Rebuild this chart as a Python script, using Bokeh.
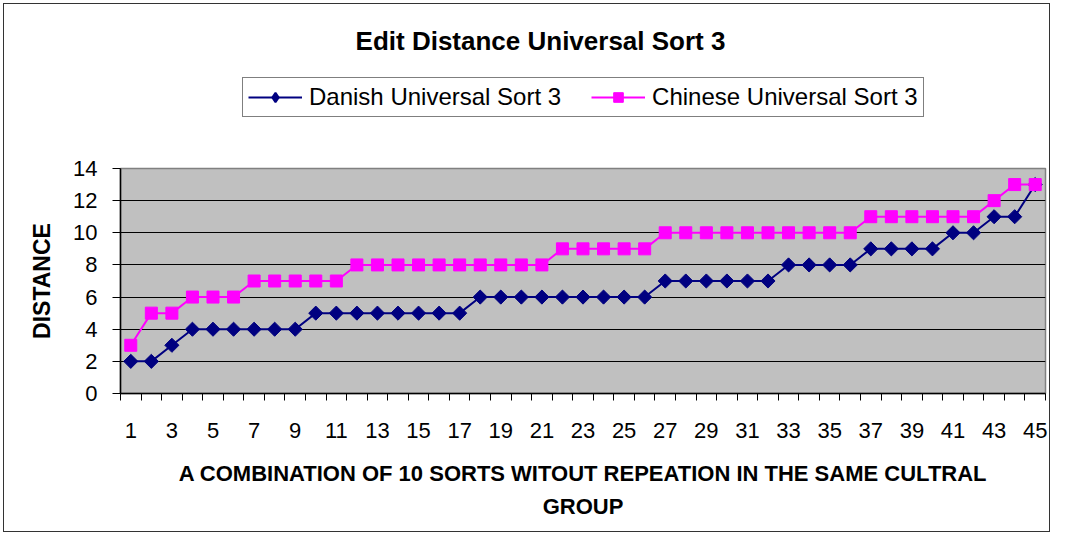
import numpy as np
from bokeh.plotting import figure
from bokeh.layouts import column
from bokeh.models import FixedTicker, Legend, LegendItem, Range1d, ColumnDataSource, Label
from bokeh.embed import file_html
from bokeh.resources import INLINE

# ---- data ----
combination = list(range(1, 46))
danish = [2, 2, 3, 4, 4, 4, 4, 4, 4, 5, 5, 5, 5, 5, 5, 5, 5,
          6, 6, 6, 6, 6, 6, 6, 6, 6, 7, 7, 7, 7, 7, 7,
          8, 8, 8, 8, 9, 9, 9, 9, 10, 10, 11, 11, 13]
chinese = [3, 5, 5, 6, 6, 6, 7, 7, 7, 7, 7,
           8, 8, 8, 8, 8, 8, 8, 8, 8, 8, 9, 9, 9, 9, 9,
           10, 10, 10, 10, 10, 10, 10, 10, 10, 10,
           11, 11, 11, 11, 11, 11, 12, 13, 13]
x_tick_labels = list(range(1, 46, 2))
y_ticks = list(range(0, 15, 2))
series_names = ["Danish Universal Sort 3", "Chinese Universal Sort 3"]
chart_title = "Edit Distance Universal Sort 3"
x_title = "A COMBINATION OF 10 SORTS WITOUT REPEATION IN THE SAME CULTRAL\nGROUP"
y_title = "DISTANCE"

FONT = "Liberation Sans"
NAVY = "#000080"
MAGENTA = "#FF00FF"
W, H, TOP_H = 1053, 535, 156
FRAME_L, FRAME_R = 120, 1045

src = ColumnDataSource(dict(x=combination, danish=danish, chinese=chinese))

# ---------------- header figure: title + legend ----------------
# (its frame is aligned with the chart frame by the column layout)
head = figure(width=W, height=TOP_H, x_range=Range1d(FRAME_L, FRAME_R), y_range=Range1d(TOP_H, 0),
              output_backend="svg", toolbar_location=None,
              x_axis_type=None, y_axis_type=None,
              min_border_left=0, min_border_right=0, min_border_top=0, min_border_bottom=0)
head.title = None
head.grid.visible = False
head.outline_line_color = None
head.background_fill_color = None
head.border_fill_color = None

# legend-only copies of the series (hidden in the header)
hl1 = head.line("x", "danish", source=src, line_color=NAVY, line_width=2, visible=False)
hs1 = head.scatter("x", "danish", source=src, marker="diamond", size=14,
                   fill_color=NAVY, line_color=NAVY, line_width=2, visible=False)
hl2 = head.line("x", "chinese", source=src, line_color=MAGENTA, line_width=2, visible=False)
hs2 = head.scatter("x", "chinese", source=src, marker="square", size=12,
                   fill_color=MAGENTA, line_color=MAGENTA, visible=False)

head.add_layout(Label(x=540, y=40, text=chart_title, text_align="center", text_baseline="middle",
                      text_font=FONT, text_font_size="26px", text_font_style="bold",
                      text_color="black"))

legend = Legend(items=[LegendItem(label=series_names[0], renderers=[hl1, hs1]),
                       LegendItem(label=series_names[1], renderers=[hl2, hs2])],
                location=(242 - FRAME_L, TOP_H - 117), orientation="horizontal",
                label_text_font=FONT, label_text_font_size="24px", label_text_color="black",
                glyph_width=54, glyph_height=24, label_height=24, label_standoff=7,
                spacing=30, padding=5, margin=0,
                inactive_fill_alpha=0.0,
                border_line_color="black", border_line_width=1,
                background_fill_color="white", background_fill_alpha=1)
head.add_layout(legend)

# ---------------- main chart ----------------
p = figure(width=W, height=H - TOP_H,
           x_range=Range1d(0.5, len(combination) + 0.5), y_range=Range1d(0, 14),
           output_backend="svg", toolbar_location=None,
           min_border_left=FRAME_L, min_border_right=W - FRAME_R,
           min_border_top=168 - TOP_H, min_border_bottom=H - 393)
p.title = None
p.background_fill_color = "#C0C0C0"
p.border_fill_color = None
p.outline_line_color = "#808080"
p.outline_line_width = 1.5

p.xgrid.grid_line_color = None
p.ygrid.ticker = FixedTicker(ticks=y_ticks)
p.ygrid.grid_line_color = "black"
p.ygrid.grid_line_width = 1

p.xaxis.ticker = FixedTicker(ticks=x_tick_labels,
                             minor_ticks=[c - 0.5 for c in combination] + [combination[-1] + 0.5])
p.xaxis.major_tick_line_color = None
p.xaxis.major_tick_out = 7
p.xaxis.major_tick_in = 0
p.xaxis.minor_tick_out = 7
p.xaxis.minor_tick_in = 0
p.xaxis.minor_tick_line_color = "black"
p.xaxis.major_label_standoff = 22
p.xaxis.axis_line_color = "black"
p.xaxis.axis_line_width = 1.5
p.xaxis.axis_label = x_title
p.xaxis.axis_label_standoff = 20
p.xaxis.axis_label_text_font = FONT
p.xaxis.axis_label_text_font_size = "22px"
p.xaxis.axis_label_text_font_style = "bold"
p.xaxis.axis_label_text_line_height = 1.35

p.yaxis.ticker = FixedTicker(ticks=y_ticks)
p.yaxis.major_tick_out = 8
p.yaxis.major_tick_in = 0
p.yaxis.minor_tick_line_color = None
p.yaxis.major_label_standoff = 15
p.yaxis.axis_line_color = "black"
p.yaxis.axis_line_width = 1.5
p.yaxis.axis_label = y_title
p.yaxis.axis_label_standoff = 15
p.yaxis.axis_label_text_font = FONT
p.yaxis.axis_label_text_font_size = "23px"
p.yaxis.axis_label_text_font_style = "bold"

for ax in (p.xaxis, p.yaxis):
    ax.major_label_text_font = FONT
    ax.major_label_text_font_size = "22px"
    ax.major_label_text_color = "black"
    ax.axis_label_text_color = "black"

p.line("x", "danish", source=src, line_color=NAVY, line_width=2)
p.scatter("x", "danish", source=src, marker="square", angle=np.pi / 4, size=10,
          fill_color=NAVY, line_color=NAVY)
p.line("x", "chinese", source=src, line_color=MAGENTA, line_width=2)
p.scatter("x", "chinese", source=src, marker="square", size=12,
          fill_color=MAGENTA, line_color=MAGENTA)

layout = column(head, p, spacing=0,
                styles={"background": "white",
                        "box-shadow": "inset 0 0 0 3px white, inset 0 0 0 4px #333333"})

open("out.html", "w").write(file_html(layout, INLINE))
